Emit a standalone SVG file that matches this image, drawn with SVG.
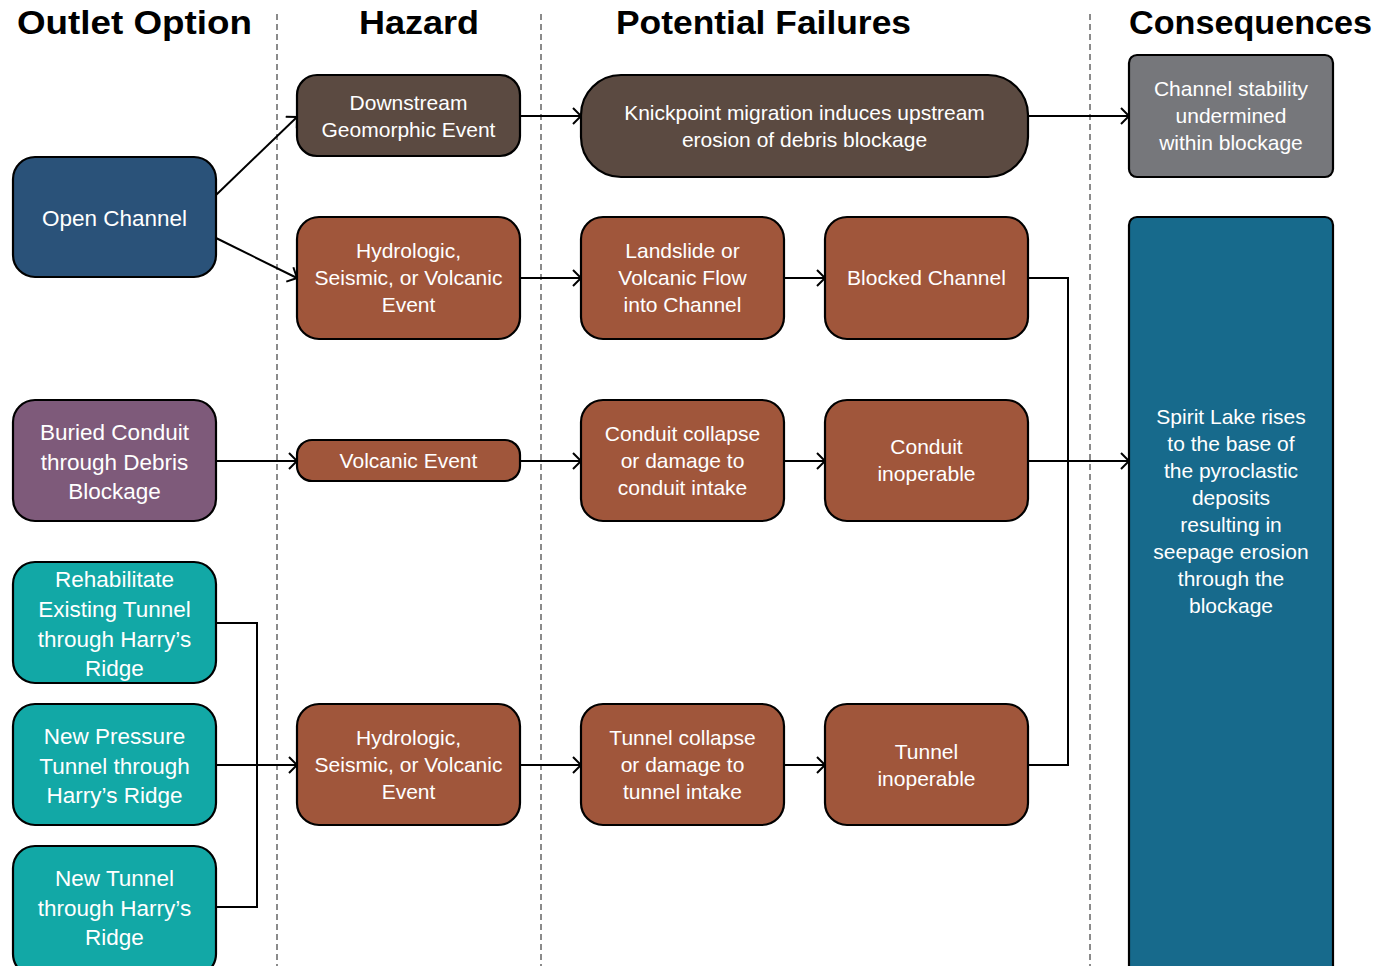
<svg xmlns="http://www.w3.org/2000/svg" width="1399" height="966" viewBox="0 0 1399 966">
<style>
.hdr{font-family:"Liberation Sans",Arial,sans-serif;font-weight:bold;font-size:34px;fill:#000}
.t{font-family:"Liberation Sans",Arial,sans-serif;font-size:21px;fill:#fff;text-anchor:middle}
.tl{font-family:"Liberation Sans",Arial,sans-serif;font-size:22.5px;fill:#fff;text-anchor:middle}
.n{stroke:#000;stroke-width:2.2}
.brown{fill:#5b4a41}.rust{fill:#a0563b}.blue{fill:#2a5279}.purple{fill:#7e5a7a}.teal{fill:#12a8a6}.gray{fill:#76777b}.lake{fill:#176a8c}
.div{stroke:#666;stroke-width:1.5;stroke-dasharray:6,4;fill:none}
.c{stroke:#000;stroke-width:2;fill:none}
</style>
<defs>
<marker id="arr" markerWidth="12" markerHeight="18" refX="10" refY="9" orient="auto" markerUnits="userSpaceOnUse">
<path d="M2,1 L10,9 L2,17" fill="none" stroke="#000" stroke-width="2"/>
</marker>
</defs>
<rect width="1399" height="966" fill="#fff"/>
<g id="headers">
<text class="hdr" x="17" y="34" textLength="235" lengthAdjust="spacingAndGlyphs">Outlet Option</text>
<text class="hdr" x="359" y="34" textLength="120" lengthAdjust="spacingAndGlyphs">Hazard</text>
<text class="hdr" x="616" y="34" textLength="295" lengthAdjust="spacingAndGlyphs">Potential Failures</text>
<text class="hdr" x="1129" y="34" textLength="243" lengthAdjust="spacingAndGlyphs">Consequences</text>
</g>
<g id="dividers">
<line class="div" x1="277" y1="14" x2="277" y2="966"/>
<line class="div" x1="541" y1="14" x2="541" y2="966"/>
<line class="div" x1="1090" y1="14" x2="1090" y2="966"/>
</g>
<g id="connectors">
<line class="c" x1="216" y1="195" x2="297" y2="117" marker-end="url(#arr)"/>
<line class="c" x1="216" y1="238" x2="297" y2="278" marker-end="url(#arr)"/>
<line class="c" x1="520" y1="116" x2="581" y2="116" marker-end="url(#arr)"/>
<line class="c" x1="1028" y1="116" x2="1129" y2="116" marker-end="url(#arr)"/>
<line class="c" x1="520" y1="278" x2="581" y2="278" marker-end="url(#arr)"/>
<line class="c" x1="784" y1="278" x2="825" y2="278" marker-end="url(#arr)"/>
<polyline class="c" points="1028,278 1068,278 1068,765 1028,765"/>
<line class="c" x1="1028" y1="461" x2="1129" y2="461" marker-end="url(#arr)"/>
<line class="c" x1="216" y1="461" x2="297" y2="461" marker-end="url(#arr)"/>
<line class="c" x1="520" y1="461" x2="581" y2="461" marker-end="url(#arr)"/>
<line class="c" x1="784" y1="461" x2="825" y2="461" marker-end="url(#arr)"/>
<polyline class="c" points="216,623 257,623 257,907 216,907"/>
<line class="c" x1="216" y1="765" x2="297" y2="765" marker-end="url(#arr)"/>
<line class="c" x1="520" y1="765" x2="581" y2="765" marker-end="url(#arr)"/>
<line class="c" x1="784" y1="765" x2="825" y2="765" marker-end="url(#arr)"/>
</g>
<g id="open-channel">
<rect class="n blue" x="13" y="157" width="203" height="120" rx="22"/>
<text class="tl" x="114.5" y="226">Open Channel</text>
</g>
<g id="downstream">
<rect class="n brown" x="297" y="75" width="223" height="81" rx="20"/>
<text class="t" x="408.5" y="110">Downstream</text>
<text class="t" x="408.5" y="137">Geomorphic Event</text>
</g>
<g id="knickpoint">
<rect class="n brown" x="581" y="75" width="447" height="102" rx="40"/>
<text class="t" x="804.5" y="120">Knickpoint migration induces upstream</text>
<text class="t" x="804.5" y="147">erosion of debris blockage</text>
</g>
<g id="channel-stability">
<rect class="n gray" x="1129" y="55" width="204" height="122" rx="8"/>
<text class="t" x="1231" y="96">Channel stability</text>
<text class="t" x="1231" y="123">undermined</text>
<text class="t" x="1231" y="150">within blockage</text>
</g>
<g id="hydrologic-1">
<rect class="n rust" x="297" y="217" width="223" height="122" rx="22"/>
<text class="t" x="408.5" y="258">Hydrologic,</text>
<text class="t" x="408.5" y="285">Seismic, or Volcanic</text>
<text class="t" x="408.5" y="312">Event</text>
</g>
<g id="landslide">
<rect class="n rust" x="581" y="217" width="203" height="122" rx="22"/>
<text class="t" x="682.5" y="258">Landslide or</text>
<text class="t" x="682.5" y="285">Volcanic Flow</text>
<text class="t" x="682.5" y="312">into Channel</text>
</g>
<g id="blocked-channel">
<rect class="n rust" x="825" y="217" width="203" height="122" rx="22"/>
<text class="t" x="926.5" y="285">Blocked Channel</text>
</g>
<g id="spirit-lake">
<rect class="n lake" x="1129" y="217" width="204" height="770" rx="8"/>
<text class="t" x="1231" y="424">Spirit Lake rises</text>
<text class="t" x="1231" y="451">to the base of</text>
<text class="t" x="1231" y="478">the pyroclastic</text>
<text class="t" x="1231" y="505">deposits</text>
<text class="t" x="1231" y="532">resulting in</text>
<text class="t" x="1231" y="559">seepage erosion</text>
<text class="t" x="1231" y="586">through the</text>
<text class="t" x="1231" y="613">blockage</text>
</g>
<g id="buried-conduit">
<rect class="n purple" x="13" y="400" width="203" height="121" rx="22"/>
<text class="tl" x="114.5" y="440">Buried Conduit</text>
<text class="tl" x="114.5" y="470">through Debris</text>
<text class="tl" x="114.5" y="499">Blockage</text>
</g>
<g id="volcanic-event">
<rect class="n rust" x="297" y="440" width="223" height="41" rx="15"/>
<text class="t" x="408.5" y="468">Volcanic Event</text>
</g>
<g id="conduit-collapse">
<rect class="n rust" x="581" y="400" width="203" height="121" rx="22"/>
<text class="t" x="682.5" y="441">Conduit collapse</text>
<text class="t" x="682.5" y="468">or damage to</text>
<text class="t" x="682.5" y="495">conduit intake</text>
</g>
<g id="conduit-inoperable">
<rect class="n rust" x="825" y="400" width="203" height="121" rx="22"/>
<text class="t" x="926.5" y="454">Conduit</text>
<text class="t" x="926.5" y="481">inoperable</text>
</g>
<g id="rehabilitate">
<rect class="n teal" x="13" y="562" width="203" height="121" rx="22"/>
<text class="tl" x="114.5" y="587">Rehabilitate</text>
<text class="tl" x="114.5" y="617">Existing Tunnel</text>
<text class="tl" x="114.5" y="647">through Harry’s</text>
<text class="tl" x="114.5" y="676">Ridge</text>
</g>
<g id="new-pressure">
<rect class="n teal" x="13" y="704" width="203" height="121" rx="22"/>
<text class="tl" x="114.5" y="744">New Pressure</text>
<text class="tl" x="114.5" y="774">Tunnel through</text>
<text class="tl" x="114.5" y="803">Harry’s Ridge</text>
</g>
<g id="new-tunnel">
<rect class="n teal" x="13" y="846" width="203" height="130" rx="22"/>
<text class="tl" x="114.5" y="886">New Tunnel</text>
<text class="tl" x="114.5" y="916">through Harry’s</text>
<text class="tl" x="114.5" y="945">Ridge</text>
</g>
<g id="hydrologic-2">
<rect class="n rust" x="297" y="704" width="223" height="121" rx="22"/>
<text class="t" x="408.5" y="745">Hydrologic,</text>
<text class="t" x="408.5" y="772">Seismic, or Volcanic</text>
<text class="t" x="408.5" y="799">Event</text>
</g>
<g id="tunnel-collapse">
<rect class="n rust" x="581" y="704" width="203" height="121" rx="22"/>
<text class="t" x="682.5" y="745">Tunnel collapse</text>
<text class="t" x="682.5" y="772">or damage to</text>
<text class="t" x="682.5" y="799">tunnel intake</text>
</g>
<g id="tunnel-inoperable">
<rect class="n rust" x="825" y="704" width="203" height="121" rx="22"/>
<text class="t" x="926.5" y="759">Tunnel</text>
<text class="t" x="926.5" y="786">inoperable</text>
</g>
</svg>
